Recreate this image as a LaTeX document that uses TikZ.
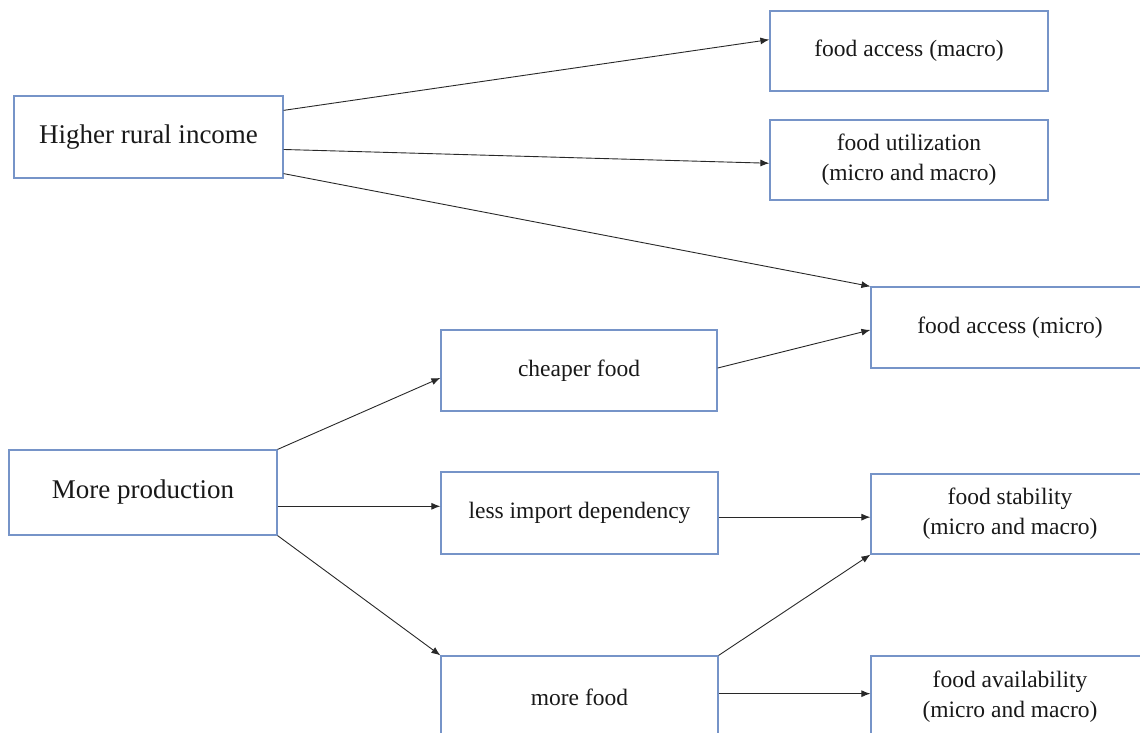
\documentclass[tikz,border=0pt]{standalone}
\usepackage{fontspec}
\setmainfont{Liberation Serif}
\usetikzlibrary{arrows.meta,calc}
\definecolor{boxblue}{RGB}{118,148,200}
\definecolor{arrowgray}{RGB}{40,40,40}
\begin{document}
\begin{tikzpicture}[x=1pt,y=-1pt,
  box/.style={draw=boxblue,line width=1.2pt,fill=white,inner sep=0pt,align=center,
    font=\fontsize{23.5}{30}\selectfont,text=black!90},
  bigbox/.style={box,font=\fontsize{27}{32}\selectfont},
  conn/.style={draw=arrowgray,line width=0.9pt,-{Latex[length=9pt,width=7pt]}}]
\useasboundingbox (0,0) rectangle (1140,733);
\clip (0,0) rectangle (1140,733);

\node[bigbox,minimum width=269pt,minimum height=82pt] (hri) at (148.5,137) {Higher rural income};
\node[box,minimum width=278pt,minimum height=80pt] (fam) at (909,51) {food access (macro)};
\node[box,minimum width=278pt,minimum height=80pt] (fut) at (909,160) {food utilization\\(micro and macro)};
\node[box,minimum width=278pt,minimum height=81pt] (fmi) at (1010,327.5) {food access (micro)};
\node[box,minimum width=276pt,minimum height=81pt] (cf) at (579,370.5) {cheaper food};
\node[bigbox,minimum width=268pt,minimum height=85pt] (mp) at (143,492.5) {More production};
\node[box,minimum width=277pt,minimum height=82pt] (lid) at (579.5,513) {less import dependency};
\node[box,minimum width=278pt,minimum height=80pt] (fs) at (1010,514) {food stability\\(micro and macro)};
\node[box,minimum width=277pt,minimum height=82pt] (mf) at (579.5,697) {more food};
\node[box,minimum width=278pt,minimum height=82pt] (fa) at (1010,697) {food availability\\(micro and macro)};

\draw[conn] ($(hri.north east)!0.18!(hri.south east)$) -- ($(fam.north west)!0.36!(fam.south west)$);
\draw[conn] ($(hri.north east)!0.65!(hri.south east)$) -- ($(fut.north west)!0.54!(fut.south west)$);
\draw[conn] ($(hri.north east)!0.94!(hri.south east)$) -- (fmi.north west);
\draw[conn] ($(cf.north east)!0.47!(cf.south east)$) -- ($(fmi.north west)!0.53!(fmi.south west)$);
\draw[conn] (mp.north east) -- ($(cf.north west)!0.59!(cf.south west)$);
\draw[conn] ($(mp.north east)!0.66!(mp.south east)$) coordinate (s1) -- (s1 -| lid.west);
\draw[conn] (mp.south east) -- (mf.north west);
\draw[conn] ($(lid.north east)!0.55!(lid.south east)$) coordinate (s2) -- (s2 -| fs.west);
\draw[conn] (mf.north east) -- (fs.south west);
\draw[conn] ($(mf.north east)!0.46!(mf.south east)$) coordinate (s3) -- (s3 -| fa.west);
\end{tikzpicture}
\end{document}
